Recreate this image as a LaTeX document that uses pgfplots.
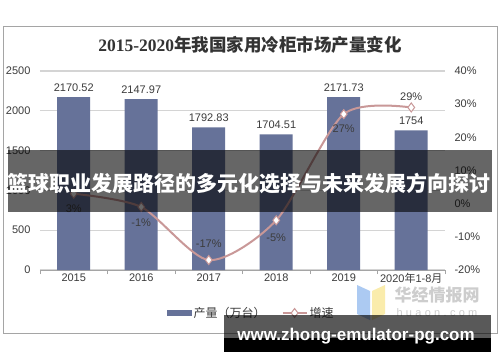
\documentclass[border=0pt]{standalone}
\usepackage{pgfplots}
\pgfplotsset{compat=1.18}
\usepackage{fontspec}
\setmainfont{Liberation Sans}
\newfontfamily\cjk{Noto Sans CJK SC}
\newfontfamily\serifb{Liberation Serif}
\definecolor{barcol}{RGB}{102,114,153}
\definecolor{linecol}{RGB}{201,152,152}
\definecolor{gridcol}{RGB}{212,212,212}
\definecolor{framecol}{RGB}{165,165,165}
\definecolor{txt}{RGB}{60,60,60}
\definecolor{logoblue}{RGB}{172,202,242}
\definecolor{logoyel}{RGB}{250,236,172}
\definecolor{wm}{RGB}{205,205,205}

\pgfplotsset{wide line legend/.style={legend image code/.code={\draw[mark repeat=2,mark phase=2,##1] plot coordinates {(0pt,0pt) (12pt,0pt) (24pt,0pt)};}}}

\pgfplotstableread{
x y
0 2170.52
1 2147.97
2 1792.83
3 1704.51
4 2171.73
5 1754
}\prodtable

\pgfplotstableread{
x y dy
0 3 -15
1 -1 -16
2 -17 16
3 -5 -17
4 27 -15
5 29 11
}\ratetable

\begin{document}
\begin{tikzpicture}
\fill[white] (0pt,0pt) rectangle (500pt,362pt);
\draw[framecol, line width=0.8pt] (3pt,29pt) rectangle (497pt,336pt);
\node[text=black!80] at (250pt,317pt) {\bfseries\fontsize{17.5}{19}\selectfont {\serifb 2015-2020}{\cjk 年我国家用冷柜市场产量变化}};

\begin{axis}[name=ax1, at={(40pt,92pt)}, anchor=south west, scale only axis,
  width=405pt, height=199pt,
  xmin=-0.5, xmax=5.5, ymin=0, ymax=2500,
  ytick={0,500,...,2500}, xtick={0,...,5},
  xticklabels={2015,2016,2017,2018,2019,{2020{\cjk 年}1-8{\cjk 月}}},
  minor xtick={-0.5,0.5,...,5.5},
  major tick length=0pt, minor tick length=4pt, tick align=outside,
  axis x line*=bottom, axis y line*=left,
  x axis line style={framecol, line width=0.8pt, -},
  y axis line style={draw=none},
  minor tick style={framecol, line width=0.8pt},
  ymajorgrids, grid style={gridcol, line width=1.2pt},
  tick label style={font=\fontsize{11}{13}\selectfont, text=txt},
  yticklabel style={xshift=-6pt},
  /pgf/number format/assume math mode=true,
  /pgf/number format/1000 sep={},
]
\addplot[ybar, bar width=33pt, fill=barcol, draw=none,
  point meta=y,
  nodes near coords={\pgfmathprintnumber[fixed,precision=2,1000 sep={},assume math mode=true]{\pgfplotspointmeta}},
  every node near coord/.append style={font=\fontsize{11}{13}\selectfont, text=txt, yshift=2pt}]
  table[x=x,y=y] {\prodtable};
\end{axis}

\begin{axis}[at={(40pt,92pt)}, anchor=south west, scale only axis,
  width=405pt, height=199pt,
  xmin=-0.5, xmax=5.5, ymin=-20, ymax=40,
  ytick={-20,-10,...,40}, xtick=\empty,
  axis y line*=right, axis x line*=bottom,
  y axis line style={draw=none}, x axis line style={draw=none},
  major tick length=0pt,
  yticklabel={\pgfmathprintnumber{\tick}\%},
  yticklabel style={xshift=6pt},
  tick label style={font=\fontsize{11}{13}\selectfont, text=txt},
  /pgf/number format/assume math mode=true,
  legend style={at={(0.522,-0.216)}, anchor=center, draw=none, fill=none,
    legend columns=2, font=\cjk\fontsize{12}{14}\selectfont, text=txt,
    /tikz/every even column/.append style={column sep=14pt}},
]
\addlegendimage{legend image code/.code={\fill[barcol] (0pt,-2.5pt) rectangle (24pt,2.5pt);}}
\addlegendentry{产量（万台）}
\addplot[linecol, line width=2pt, smooth, tension=0.45,
  mark=diamond*, mark size=4.5pt,
  mark options={fill=white, draw=linecol, line width=1pt, solid},
  point meta=y,
  nodes near coords={\pgfmathprintnumber{\pgfplotspointmeta}\%},
  visualization depends on={\thisrow{dy} \as \dy},
  every node near coord/.append style={anchor=center, yshift=\dy pt, font=\fontsize{11}{13}\selectfont, text=txt},
  wide line legend]
  table[x=x,y=y] {\ratetable};
\addlegendentry{增速}
\end{axis}

% watermark
\fill[logoblue] (357pt,77pt) -- (370pt,71pt) -- (370pt,42pt) -- (357pt,48pt) -- cycle;
\fill[logoyel] (372pt,71pt) -- (385pt,77pt) -- (385pt,48pt) -- (372pt,42pt) -- cycle;
\node[text=wm] at (437pt,67pt) {\cjk\bfseries\fontsize{17}{19}\selectfont 华经情报网};
\node[text=wm] at (437pt,49pt) {\fontsize{11}{13}\selectfont\addfontfeatures{LetterSpace=30} huaon.com};

% banners
\fill[black, opacity=0.6] (8pt,150pt) rectangle (492pt,212pt);
\node[text=white] at (249pt,178pt) {\cjk\bfseries\fontsize{21}{23}\selectfont 篮球职业发展路径的多元化选择与未来发展方向探讨};
\fill[black, opacity=0.65] (224pt,24pt) rectangle (491pt,47pt);
\fill[black] (224pt,10pt) rectangle (491pt,24pt);
\node[text=white, anchor=base] at (356pt,22pt) {\bfseries\fontsize{17}{19}\selectfont www.zhong-emulator-pg.com};
\path (0pt,0pt) rectangle (500pt,362pt);
\end{tikzpicture}
\end{document}
